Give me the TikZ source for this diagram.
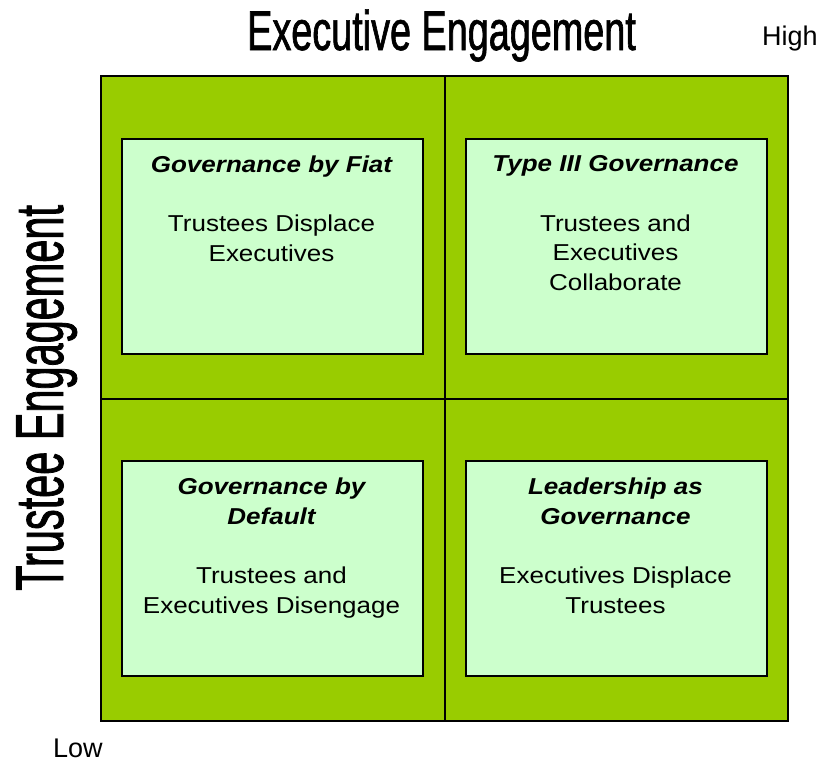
\documentclass[tikz,border=0pt]{standalone}
\usepackage{fontspec}
\setmainfont{Liberation Sans}
\newfontfamily\boxfont[FakeStretch=1.13]{Liberation Sans}
\newfontfamily\titlefont[FakeStretch=0.675,FakeBold=1.1]{Liberation Sans}
\newfontfamily\vlabelfont[FakeStretch=0.61,FakeBold=1.1]{Liberation Sans}
\definecolor{gridgreen}{HTML}{99CC00}
\definecolor{cellgreen}{HTML}{CCFFCC}
\begin{document}
\begin{tikzpicture}[x=1pt,y=-1pt,
  cellbox/.style={draw=black, line width=1.5pt, fill=cellgreen, minimum width=301pt, minimum height=215pt, anchor=north west, inner sep=0pt},
  celltext/.style={anchor=north, inner sep=0pt, align=center, font=\boxfont\fontsize{23}{29.7}\selectfont},
  axislabel/.style={anchor=base west, inner sep=0pt, font=\fontsize{27}{27}\selectfont}]
\useasboundingbox (0,0) rectangle (833,763);
\fill[white] (0,0) rectangle (833,763);
\node[draw=black, line width=2.2pt, fill=gridgreen, minimum width=687pt, minimum height=645pt, anchor=north west, inner sep=0pt] (grid) at (100,75) {};
\draw[line width=2.2pt] (grid.north) -- (grid.south);
\draw[line width=2.2pt] (grid.west) -- (grid.east);
\node[cellbox] (tl) at (121,138) {};
\node[cellbox] (tr) at (465,138) {};
\node[cellbox] (bl) at (121,460) {};
\node[cellbox] (br) at (465,460) {};
\node[celltext] (tltext) at (271.5,155.5) {{\bfseries\itshape Governance by Fiat}\\[29.7pt]Trustees Displace\\Executives};
\node[celltext] (trtext) at (615.5,155.5) {{\bfseries\itshape Type III Governance}\\[29.7pt]Trustees and\\Executives\\Collaborate};
\node[celltext] (bltext) at (271.5,477.5) {{\bfseries\itshape Governance by}\\{\bfseries\itshape Default}\\[29.7pt]Trustees and\\Executives Disengage};
\node[celltext] (brtext) at (615.5,477.5) {{\bfseries\itshape Leadership as}\\{\bfseries\itshape Governance}\\[29.7pt]Executives Displace\\Trustees};
\node[anchor=base west, inner sep=0pt, font=\titlefont\fontsize{56}{56}\selectfont] (title) at (247,50) {Executive Engagement};
\node[rotate=90, anchor=base west, inner sep=0pt, font=\vlabelfont\fontsize{68}{68}\selectfont] (vlabel) at (63,591) {Trustee Engagement};
\node[axislabel] (high) at (762,45) {High};
\node[axislabel] (low) at (53,757) {Low};
\end{tikzpicture}
\end{document}
